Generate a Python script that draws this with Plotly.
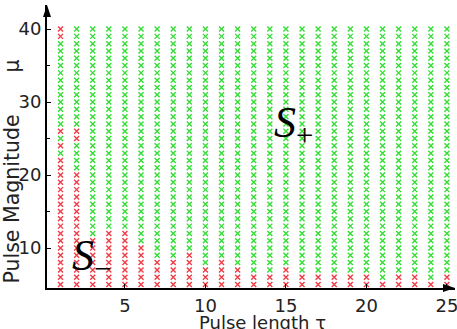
import plotly.graph_objects as go

# Grid of pulse lengths (tau) and magnitudes (mu)
tau_values = list(range(1, 26))
mu_values = list(range(5, 41))

# Highest mu (from the bottom) that is still in S- for each tau
red_max = [22, 20, 11, 12, 12, 10, 8, 8, 9, 7, 8, 7, 6, 6, 7,
           6, 6, 6, 6, 6, 5, 6, 6, 5, 6]
# Isolated S- points above the contiguous region
extra_red_tau = [1, 1, 1, 1, 2, 2]
extra_red_mu = [24, 26, 39, 40, 25, 26]

# Axis ticks
y_ticks = [10, 20, 30, 40]
x_ticks = [5, 10, 15, 20, 25]

extra = set(zip(extra_red_tau, extra_red_mu))
rx, ry, gx, gy = [], [], [], []
for t, m_max in zip(tau_values, red_max):
    for m in mu_values:
        if m <= m_max or (t, m) in extra:
            rx.append(t); ry.append(m)
        else:
            gx.append(t); gy.append(m)

fig = go.Figure()
fig.add_trace(go.Scatter(x=gx, y=gy, mode="markers",
                         marker=dict(symbol="x-thin", size=5, color="#33dd33",
                                     line=dict(width=1.4, color="#33dd33")),
                         showlegend=False, hoverinfo="skip"))
fig.add_trace(go.Scatter(x=rx, y=ry, mode="markers",
                         marker=dict(symbol="x-thin", size=5, color="#f03c46",
                                     line=dict(width=1.4, color="#f03c46")),
                         showlegend=False, hoverinfo="skip"))

tfont = dict(family="DejaVu Sans", size=18, color="#222")
yfont = dict(family="DejaVu Sans", size=20.5, color="#222")

fig.update_layout(
    width=457, height=329,
    margin=dict(l=47, r=2, t=5, b=41),
    paper_bgcolor="white", plot_bgcolor="white",
    font=tfont,
    xaxis=dict(range=[0.16, 25.5], tickvals=x_ticks, showgrid=False, zeroline=False,
               showline=True, linecolor="black", linewidth=2, ticks="inside",
               ticklen=4, tickcolor="black", tickfont=tfont, ticklabeloverflow="allow",
               automargin=False),
    yaxis=dict(range=[4.52, 43.3], tickvals=y_ticks, showgrid=False, zeroline=False,
               showline=True, linecolor="black", linewidth=2, ticks="inside",
               ticklen=4, tickcolor="black", tickfont=tfont, automargin=False,
               minor=dict(tickvals=[15, 25, 35], ticks="inside", ticklen=3, tickcolor="black")),
)

# Axis titles
fig.add_annotation(xref="paper", yref="paper", x=0.529, y=-0.123,
                   xanchor="center", yanchor="middle",
                   text="Pulse length τ", showarrow=False, font=tfont)
fig.add_annotation(xref="paper", yref="paper", x=(11.5 - 47) / 408, y=(288 - 199) / 283,
                   xanchor="center", yanchor="middle",
                   text="Pulse Magnitude", textangle=-90,
                   showarrow=False, font=yfont)
fig.add_annotation(xref="paper", yref="paper", x=(11.5 - 47) / 408, y=(288 - 66) / 283,
                   xanchor="center", yanchor="middle",
                   text="μ", textangle=-90,
                   showarrow=False, font=yfont)

# Arrowheads at the ends of the axes
px_x = 1 / 408.0
px_y = 1 / 283.0
fig.add_shape(type="path", xref="paper", yref="paper",
              path=f"M {-4*px_x} {1-12*px_y} L {4*px_x} {1-12*px_y} L 0 1 Z",
              fillcolor="black", line=dict(width=0))
fig.add_shape(type="path", xref="paper", yref="paper",
              path=f"M {1-12*px_x} {4*px_y} L {1-12*px_x} {-4*px_y} L 1 0 Z",
              fillcolor="black", line=dict(width=0))

# Region labels
sfont = dict(family="Liberation Serif", size=44, color="black")
fig.add_annotation(x=15.5, y=26.8, text="<i>S</i><sub>+</sub>", showarrow=False, font=sfont)
fig.add_annotation(x=2.9, y=8.6, text="<i>S</i><sub>−</sub>", showarrow=False, font=sfont)

fig.write_html("out.html")
